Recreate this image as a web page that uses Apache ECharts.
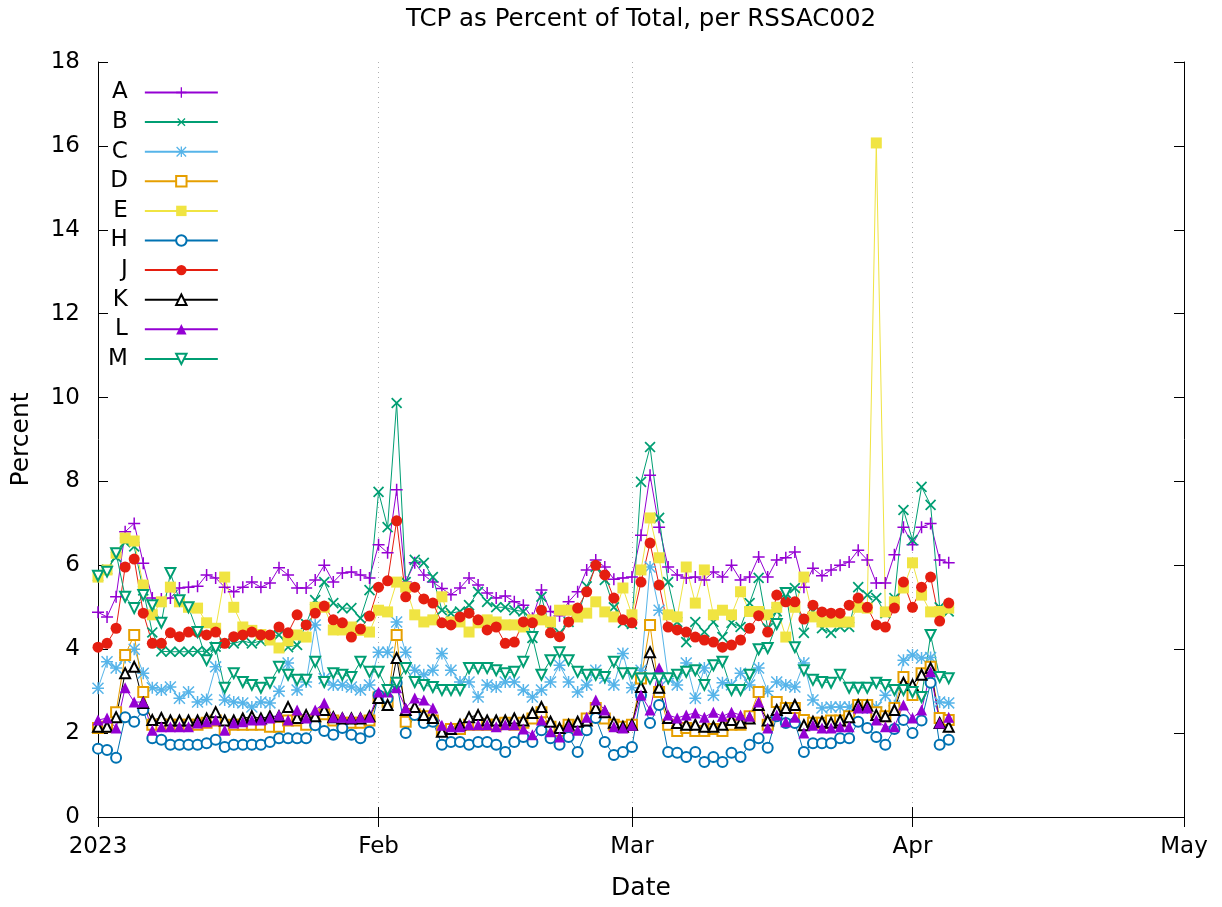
<!DOCTYPE html>
<html><head><meta charset="utf-8">
<script src="https://cdn.jsdelivr.net/npm/echarts@6/dist/echarts.min.js"></script>
<style>html,body{margin:0;padding:0;background:#fff}#c{width:1222px;height:907px}</style>
</head><body><div id="c"></div>
<script>
// daily samples starting 2023-01-01
const startDate = [2023, 0, 1];
const endDate = [2023, 4, 1];
const seriesNames = ['A','B','C','D','E','H','J','K','L','M'];
const yTicks = [0,2,4,6,8,10,12,14,16,18];
const monthLabels = {0:'2023',1:'Feb',2:'Mar',3:'Apr',4:'May'};

const A = [4.88,4.77,5.25,6.8,7.0,6.05,5.22,5.2,5.22,5.46,5.48,5.5,5.77,5.7,5.48,5.37,5.48,5.6,5.48,5.58,
5.94,5.77,5.46,5.46,5.65,6.0,5.6,5.82,5.84,5.77,5.7,6.49,6.3,7.8,5.6,6.06,5.77,5.6,5.45,5.3,
5.46,5.7,5.53,5.34,5.22,5.27,5.13,5.05,4.74,5.41,4.9,4.8,5.13,5.37,5.89,6.13,5.96,5.67,5.7,5.72,
6.72,8.15,6.91,5.96,5.77,5.7,5.72,5.65,5.84,5.72,6.0,5.65,5.72,6.2,5.72,6.13,6.18,6.32,5.48,5.93,
5.75,5.89,6.0,6.08,6.36,6.13,5.58,5.58,6.25,6.91,6.49,6.91,7.0,6.13,6.06];
const B = [5.75,5.9,6.2,6.55,6.45,5.4,4.4,3.95,3.94,3.94,3.94,3.95,3.95,4.06,4.14,4.14,4.2,4.14,4.2,4.3,
4.34,4.05,4.1,4.6,5.17,5.6,5.1,4.98,4.98,4.74,5.41,7.75,6.91,9.87,5.6,6.13,6.06,5.72,4.93,4.86,
4.9,5.05,5.37,5.13,5.0,5.0,4.93,4.9,4.27,5.25,4.46,4.39,4.65,4.77,5.5,5.96,5.65,5.0,4.63,4.6,
7.99,8.82,7.13,5.6,4.65,4.17,4.65,4.41,4.65,4.29,4.63,4.53,5.1,5.7,4.5,4.9,5.34,5.46,4.39,4.9,
4.5,4.39,4.53,4.53,5.48,5.29,5.22,4.86,5.22,7.32,6.6,7.87,7.44,5.0,4.9];
const C = [3.07,3.7,3.55,3.8,4.0,3.43,3.08,3.03,3.1,2.83,2.98,2.74,2.8,3.58,2.79,2.74,2.72,2.62,2.74,2.72,
3.0,3.67,3.03,3.22,4.58,3.3,3.15,3.15,3.1,3.03,3.15,3.93,3.93,4.65,3.93,3.5,3.39,3.5,3.9,3.5,
3.22,3.22,2.86,3.15,3.1,3.22,3.22,3.03,2.86,3.03,3.22,3.62,3.22,2.98,3.15,3.5,3.31,3.15,3.9,3.08,
3.5,5.96,4.93,3.3,3.15,3.67,2.83,3.55,2.9,3.2,3.15,3.43,3.15,3.55,3.0,3.22,3.15,3.1,3.67,2.79,
2.6,2.62,2.62,2.62,2.65,2.6,2.62,2.9,2.65,3.74,3.86,3.79,3.8,2.74,2.72];
const D = [2.12,2.15,2.5,3.86,4.34,2.98,2.2,2.2,2.2,2.2,2.2,2.2,2.25,2.3,2.1,2.2,2.2,2.2,2.2,2.15,
2.15,2.3,2.3,2.2,2.3,2.45,2.3,2.25,2.25,2.25,2.3,2.85,2.75,4.34,2.27,2.45,2.4,2.3,2.05,2.1,
2.1,2.2,2.2,2.2,2.2,2.25,2.2,2.25,2.35,2.5,2.15,2.05,2.2,2.15,2.35,2.6,2.35,2.2,2.15,2.2,
3.3,4.58,2.98,2.2,2.05,2.12,2.05,2.05,2.1,2.05,2.2,2.2,2.4,2.98,2.2,2.74,2.6,2.6,2.31,2.25,
2.25,2.3,2.3,2.4,2.67,2.67,2.5,2.4,2.6,3.34,2.91,3.43,3.58,2.36,2.31];
const E = [5.72,5.89,6.29,6.65,6.58,5.53,4.82,5.13,5.48,5.13,5.0,4.98,4.63,4.5,5.72,5.0,4.53,4.45,4.35,4.22,
4.03,4.2,4.34,4.29,5.0,5.0,4.46,4.46,4.53,4.45,4.41,4.93,4.89,5.6,5.48,4.82,4.65,4.7,5.25,4.65,
4.65,4.41,4.63,4.7,4.65,4.58,4.58,4.53,4.7,4.7,4.65,4.93,4.93,4.77,4.86,5.13,4.89,4.77,5.46,4.82,
5.89,7.13,6.18,4.82,4.77,5.96,5.1,5.89,4.82,4.93,4.82,5.37,4.9,4.9,4.82,5.0,4.29,5.0,5.72,4.77,
4.65,4.65,4.65,4.65,5.0,4.98,16.07,4.89,5.13,5.46,6.06,5.29,4.89,4.9,4.98];
const H = [1.63,1.6,1.41,2.38,2.27,2.55,1.88,1.84,1.72,1.72,1.72,1.72,1.76,1.84,1.67,1.72,1.72,1.72,1.72,1.79,
1.88,1.88,1.88,1.88,2.19,2.05,1.96,2.12,1.96,1.88,2.03,2.9,2.83,3.2,2.0,2.43,2.24,2.27,1.72,1.79,
1.79,1.72,1.79,1.79,1.72,1.55,1.79,1.91,1.79,2.07,1.88,1.72,1.91,1.55,2.07,2.36,1.79,1.48,1.55,1.67,
2.9,2.24,2.67,1.55,1.53,1.43,1.55,1.31,1.43,1.31,1.53,1.43,1.72,1.88,1.65,2.4,2.24,2.24,1.55,1.76,
1.76,1.76,1.88,1.88,2.27,2.12,1.91,1.72,2.1,2.31,2.0,2.3,3.2,1.72,1.84];
const J = [4.05,4.14,4.5,5.96,6.15,4.86,4.14,4.14,4.39,4.3,4.41,4.41,4.34,4.41,4.14,4.3,4.34,4.41,4.34,4.34,
4.53,4.39,4.82,4.58,4.86,5.03,4.7,4.63,4.29,4.48,4.79,5.48,5.63,7.06,5.25,5.48,5.2,5.1,4.63,4.58,
4.77,4.86,4.7,4.46,4.53,4.14,4.17,4.65,4.63,4.93,4.39,4.3,4.65,4.98,5.37,6.0,5.77,5.22,4.7,4.63,
5.6,6.53,5.53,4.53,4.46,4.41,4.29,4.22,4.17,4.05,4.1,4.22,4.5,4.8,4.41,5.29,5.13,5.13,4.72,5.05,
4.89,4.86,4.86,5.05,5.22,5.0,4.58,4.53,4.98,5.6,5.0,5.48,5.72,4.67,5.1];
const K = [2.15,2.15,2.38,3.43,3.58,2.72,2.31,2.36,2.3,2.3,2.3,2.3,2.35,2.5,2.3,2.3,2.35,2.4,2.35,2.4,
2.4,2.62,2.36,2.43,2.4,2.55,2.38,2.35,2.35,2.35,2.4,2.84,2.67,3.79,2.55,2.62,2.43,2.36,2.03,2.1,
2.2,2.38,2.43,2.3,2.3,2.3,2.35,2.3,2.48,2.62,2.27,2.12,2.2,2.27,2.3,2.6,2.5,2.25,2.15,2.2,
3.1,3.93,3.08,2.36,2.24,2.2,2.2,2.15,2.15,2.2,2.31,2.25,2.35,2.67,2.3,2.55,2.6,2.67,2.19,2.27,
2.27,2.25,2.3,2.38,2.67,2.65,2.43,2.4,2.55,3.2,3.15,3.39,3.55,2.24,2.15];
const L = [2.31,2.36,2.12,3.08,2.74,2.74,2.07,2.15,2.15,2.15,2.15,2.24,2.27,2.31,2.07,2.24,2.27,2.31,2.31,2.36,
2.43,2.31,2.55,2.36,2.55,2.72,2.38,2.38,2.36,2.38,2.38,2.98,2.98,3.08,2.6,2.84,2.79,2.6,2.19,2.15,
2.15,2.2,2.2,2.2,2.15,2.2,2.2,2.1,1.96,2.31,2.03,1.91,2.15,2.07,2.38,2.79,2.55,2.15,2.12,2.19,
2.91,2.55,3.55,2.43,2.36,2.43,2.48,2.38,2.5,2.4,2.5,2.43,2.4,2.74,2.12,2.43,2.27,2.38,2.0,2.19,
2.12,2.12,2.15,2.15,2.6,2.6,2.31,2.15,2.15,2.67,2.36,2.55,3.46,2.24,2.38];
const M = [5.75,5.85,6.29,5.25,4.98,5.29,5.05,4.63,5.82,5.17,5.0,4.41,3.74,4.03,3.08,3.43,3.22,3.15,3.08,3.2,
3.58,3.39,3.27,3.27,3.7,3.22,3.43,3.39,3.34,3.7,3.46,3.46,3.03,3.2,3.55,3.22,3.15,3.1,3.03,3.03,
3.03,3.55,3.55,3.55,3.5,3.43,3.46,3.7,4.29,3.39,3.74,3.93,3.74,3.46,3.39,3.39,3.34,3.7,3.43,3.43,
3.3,3.3,3.3,3.31,3.39,3.46,3.5,3.15,3.62,3.7,3.03,3.03,3.39,4.0,4.03,4.6,5.34,4.05,3.5,3.27,
3.22,3.2,3.39,3.08,3.08,3.08,3.2,3.15,3.03,3.03,2.98,2.86,4.34,3.34,3.31];

const seriesValues = [A,B,C,D,E,H,J,K,L,M];
const colors = ['#9400d3','#009e73','#56b4e9','#e69f00','#f0e442','#0072b2','#e51e10','#000000','#9400d3','#009e73'];
const PLUS = 'path://M7,0H9V7H16V9H9V16H7V9H0V7H7Z';
const STAR = 'path://M7,0H9V7H16V9H9V16H7V9H0V7H7Z M1.4,0L16,14.6L14.6,16L0,1.4Z M14.6,0L16,1.4L1.4,16L0,14.6Z';
const symbols = [
  {symbol: PLUS, size: 12, rot: 0},
  {symbol: PLUS, size: 14, rot: 45},
  {symbol: STAR, size: 12, rot: 0},
  {symbol: 'emptyRect', size: 10, rot: 0},
  {symbol: 'rect', size: 11, rot: 0},
  {symbol: 'emptyCircle', size: 10, rot: 0},
  {symbol: 'circle', size: 11, rot: 0},
  {symbol: 'emptyTriangle', size: 10, rot: 0},
  {symbol: 'triangle', size: 11, rot: 0},
  {symbol: 'emptyTriangle', size: 10, rot: 180}
];

const DAY = 86400000;
const t0 = Date.UTC(startDate[0], startDate[1], startDate[2]);
const tEnd = Date.UTC(endDate[0], endDate[1], endDate[2]);

const series = seriesNames.map((name, k) => ({
  name: name,
  type: 'line',
  data: seriesValues[k].map((v, i) => [t0 + i * DAY, v]),
  symbol: symbols[k].symbol,
  symbolSize: symbols[k].size,
  symbolRotate: symbols[k].rot,
  showSymbol: true,
  showAllSymbol: true,
  lineStyle: {width: 1, color: colors[k]},
  itemStyle: {color: colors[k], borderWidth: 1.2},
  emphasis: {disabled: true},
  animation: false
}));

const FONT = 'DejaVu Sans';
const axisLabelStyle = {color: '#000', fontSize: 23, fontFamily: FONT};
const monthName = v => { const d = new Date(v); return monthLabels[d.getUTCMonth()] || ''; };

const option = {
  animation: false,
  useUTC: true,
  backgroundColor: '#fff',
  textStyle: {fontFamily: FONT},
  title: {
    text: 'TCP as Percent of Total, per RSSAC002',
    left: 641, top: 7, padding: 0, textAlign: 'center',
    textStyle: {fontSize: 24.5, fontWeight: 'normal', color: '#000', fontFamily: FONT}
  },
  grid: {left: 98, right: 38, top: 62, bottom: 90, containLabel: false},
  legend: {
    orient: 'vertical', left: 103, top: 76, align: 'right',
    itemWidth: 73, itemHeight: 13, itemGap: 6.6,
    textStyle: {color: '#000', fontSize: 23, fontFamily: FONT, lineHeight: 13, padding: [0, 12, 0, 0]},
    data: seriesNames
  },
  xAxis: [{
    type: 'time', min: t0, max: tEnd, minInterval: 28 * DAY, maxInterval: 31 * DAY,
    name: 'Date', nameLocation: 'middle', nameGap: 59,
    nameTextStyle: {color: '#000', fontSize: 25, fontFamily: FONT},
    axisLine: {show: true, lineStyle: {color: '#000', width: 1}},
    axisTick: {show: true, inside: true, length: 10, lineStyle: {color: '#000'}},
    minorTick: {show: false},
    axisLabel: Object.assign({margin: 19, formatter: monthName, hideOverlap: false, showMinLabel: true, showMaxLabel: true}, axisLabelStyle),
    splitLine: {show: true, lineStyle: {color: '#b0b0b0', type: [1, 4], width: 1}}
  }, {
    type: 'time', position: 'top', min: t0, max: tEnd, minInterval: 28 * DAY, maxInterval: 31 * DAY,
    axisLine: {show: true, lineStyle: {color: '#000', width: 1}},
    axisTick: {show: true, inside: true, length: 10, lineStyle: {color: '#000'}},
    axisLabel: {show: false}, splitLine: {show: false}
  }],
  yAxis: [{
    type: 'value', min: 0, max: 18, interval: 2,
    name: 'Percent', nameLocation: 'middle', nameGap: 64, nameRotate: 90,
    nameTextStyle: {color: '#000', fontSize: 25, fontFamily: FONT},
    axisLine: {show: true, lineStyle: {color: '#000', width: 1}},
    axisTick: {show: true, inside: true, length: 10, lineStyle: {color: '#000'}},
    axisLabel: Object.assign({margin: 18, formatter: v => yTicks.includes(v) ? String(v) : ''}, axisLabelStyle),
    splitLine: {show: false}
  }, {
    type: 'value', min: 0, max: 18, interval: 2, position: 'right',
    axisLine: {show: true, lineStyle: {color: '#000', width: 1}},
    axisTick: {show: true, inside: true, length: 10, lineStyle: {color: '#000'}},
    axisLabel: {show: false}, splitLine: {show: false}
  }],
  series: series
};

const chart = echarts.init(document.getElementById('c'), null, {renderer: 'canvas'});
chart.setOption(option);
</script>
</body></html>
